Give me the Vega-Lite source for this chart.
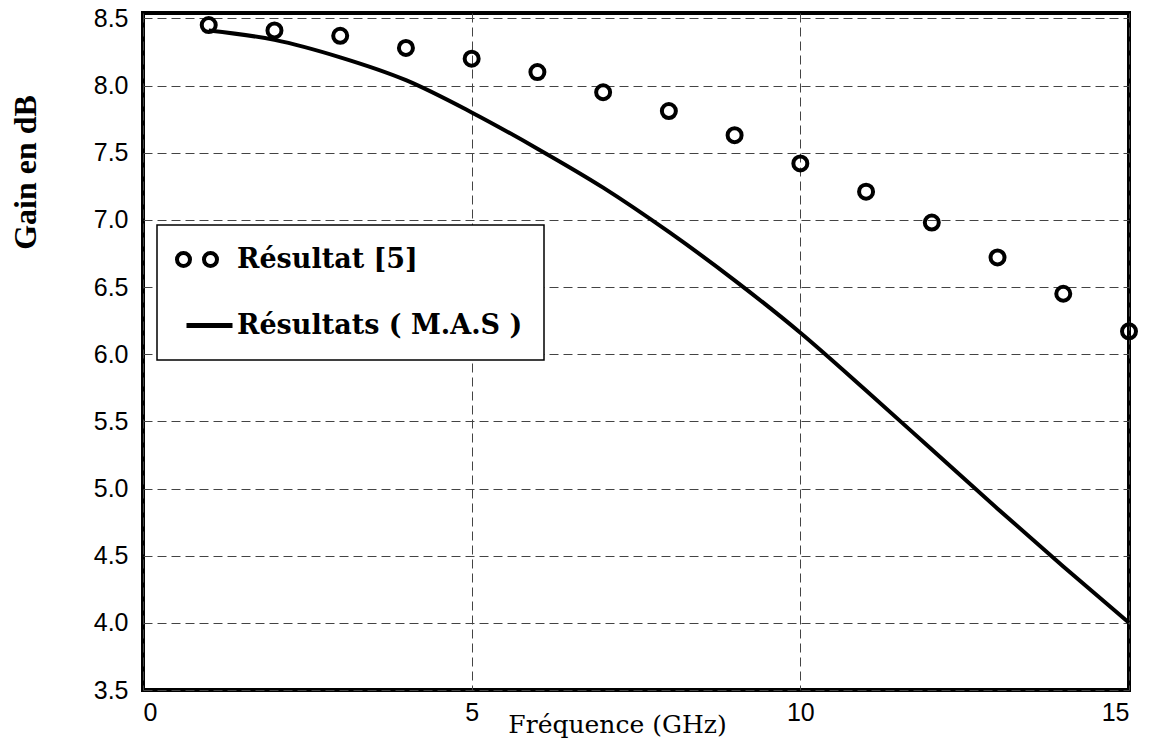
{
  "$schema": "https://vega.github.io/schema/vega-lite/v6.json",
  "autosize": {"type": "none"},
  "padding": {"left": 143, "top": 13, "right": 20, "bottom": 53},
  "width": 986,
  "height": 677,
  "background": "white",
  "config": {
    "view": {"stroke": "black", "strokeWidth": 4},
    "axis": {
      "domain": false,
      "ticks": false,
      "labelColor": "black",
      "labelFont": "Liberation Sans",
      "labelFontSize": 25,
      "grid": true,
      "gridColor": "#444444",
      "gridWidth": 1,
      "gridDash": [9, 5],
      "gridOpacity": 1
    }
  },
  "data": {
    "values": [
      {"freq": 1, "gain": 8.45, "serie": "Résultat [5]"},
      {"freq": 2, "gain": 8.41, "serie": "Résultat [5]"},
      {"freq": 3, "gain": 8.37, "serie": "Résultat [5]"},
      {"freq": 4, "gain": 8.28, "serie": "Résultat [5]"},
      {"freq": 5, "gain": 8.2, "serie": "Résultat [5]"},
      {"freq": 6, "gain": 8.1, "serie": "Résultat [5]"},
      {"freq": 7, "gain": 7.95, "serie": "Résultat [5]"},
      {"freq": 8, "gain": 7.81, "serie": "Résultat [5]"},
      {"freq": 9, "gain": 7.63, "serie": "Résultat [5]"},
      {"freq": 10, "gain": 7.42, "serie": "Résultat [5]"},
      {"freq": 11, "gain": 7.21, "serie": "Résultat [5]"},
      {"freq": 12, "gain": 6.98, "serie": "Résultat [5]"},
      {"freq": 13, "gain": 6.72, "serie": "Résultat [5]"},
      {"freq": 14, "gain": 6.45, "serie": "Résultat [5]"},
      {"freq": 15, "gain": 6.17, "serie": "Résultat [5]"},
      {"freq": 1, "gain": 8.41, "serie": "Résultats ( M.A.S )"},
      {"freq": 2, "gain": 8.34, "serie": "Résultats ( M.A.S )"},
      {"freq": 3, "gain": 8.21, "serie": "Résultats ( M.A.S )"},
      {"freq": 4, "gain": 8.04, "serie": "Résultats ( M.A.S )"},
      {"freq": 5, "gain": 7.8, "serie": "Résultats ( M.A.S )"},
      {"freq": 6, "gain": 7.53, "serie": "Résultats ( M.A.S )"},
      {"freq": 7, "gain": 7.24, "serie": "Résultats ( M.A.S )"},
      {"freq": 8, "gain": 6.91, "serie": "Résultats ( M.A.S )"},
      {"freq": 9, "gain": 6.55, "serie": "Résultats ( M.A.S )"},
      {"freq": 10, "gain": 6.16, "serie": "Résultats ( M.A.S )"},
      {"freq": 11, "gain": 5.73, "serie": "Résultats ( M.A.S )"},
      {"freq": 12, "gain": 5.29, "serie": "Résultats ( M.A.S )"},
      {"freq": 13, "gain": 4.85, "serie": "Résultats ( M.A.S )"},
      {"freq": 14, "gain": 4.42, "serie": "Résultats ( M.A.S )"},
      {"freq": 15, "gain": 4.0, "serie": "Résultats ( M.A.S )"}
    ]
  },
  "encoding": {
    "x": {
      "field": "freq",
      "type": "quantitative",
      "scale": {"domain": [0, 15], "nice": false, "zero": false},
      "axis": {
        "values": [0, 5, 10, 15],
        "labelPadding": 10,
        "title": "Fréquence (GHz)",
        "titleFont": "DejaVu Serif",
        "titleFontWeight": "normal",
        "titleFontSize": 25,
        "titleColor": "black",
        "titleX": 474,
        "titleY": 42,
        "titleBaseline": "alphabetic"
      }
    },
    "y": {
      "field": "gain",
      "type": "quantitative",
      "scale": {"domain": [3.5, 8.54], "nice": false, "zero": false},
      "axis": {
        "values": [3.5, 4, 4.5, 5, 5.5, 6, 6.5, 7, 7.5, 8, 8.5],
        "format": ".1f",
        "labelPadding": 15,
        "title": "Gain en dB",
        "titleFont": "Liberation Serif",
        "titleFontWeight": "bold",
        "titleFontSize": 32,
        "titleColor": "black",
        "titleX": -118,
        "titleY": 159,
        "titleBaseline": "middle",
        "titleAngle": -90
      }
    },
    "color": {
      "field": "serie",
      "type": "nominal",
      "scale": {"domain": ["Résultat [5]", "Résultats ( M.A.S )"], "range": ["black", "black"]},
      "legend": {
        "title": null,
        "orient": "none",
        "legendX": 14,
        "legendY": 212,
        "fillColor": "white",
        "strokeColor": "black",
        "padding": 21,
        "rowPadding": 37,
        "symbolSize": 400,
        "labelOffset": 32,
        "labelLimit": 0,
        "labelFont": "DejaVu Serif",
        "labelFontWeight": "bold",
        "labelFontSize": 27,
        "labelColor": "black",
        "encode": {
          "legend": {"update": {"strokeWidth": {"value": 1.5}}},
          "symbols": {
            "update": {
              "shape": {"signal": "datum.index === 0 ? 'M-0.15,0C-0.15,0.359,-0.441,0.65,-0.8,0.65C-1.159,0.65,-1.45,0.359,-1.45,0C-1.45,-0.359,-1.159,-0.65,-0.8,-0.65C-0.441,-0.65,-0.15,-0.359,-0.15,0ZM2.55,0C2.55,0.359,2.259,0.65,1.9,0.65C1.541,0.65,1.25,0.359,1.25,0C1.25,-0.359,1.541,-0.65,1.9,-0.65C2.259,-0.65,2.55,-0.359,2.55,0Z' : 'M-0.5,0L4.1,0'"},
              "stroke": {"value": "black"},
              "strokeWidth": {"signal": "datum.index === 0 ? 4 : 5"},
              "fill": {"value": "transparent"},
              "opacity": {"value": 1}
            }
          }
        }
      }
    }
  },
  "layer": [
    {
      "transform": [{"filter": "datum.serie === 'Résultats ( M.A.S )'"}],
      "mark": {"type": "line", "strokeWidth": 4, "interpolate": "monotone"}
    },
    {
      "transform": [{"filter": "datum.serie === 'Résultat [5]'"}],
      "mark": {"type": "point", "filled": false, "strokeWidth": 4, "size": 196, "opacity": 1}
    }
  ]
}
